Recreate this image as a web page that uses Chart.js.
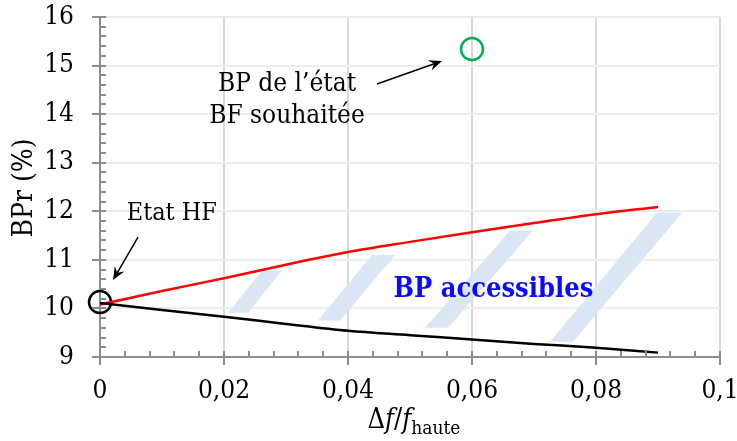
<!DOCTYPE html>
<html>
<head>
<meta charset="utf-8">
<script src="https://cdn.jsdelivr.net/npm/chart.js@4"></script>
<style>
  body { margin: 0; background: #fff; }
  canvas { display: block; }
</style>
</head>
<body>
<canvas id="chart" width="737" height="441"></canvas>
<script>
// Data
const xValues  = [0, 0.01, 0.02, 0.03, 0.04, 0.05, 0.06, 0.07, 0.08, 0.09];
const upperBP  = [10.08, 10.36, 10.62, 10.90, 11.16, 11.37, 11.57, 11.76, 11.94, 12.09];
const lowerBP  = [10.11, 9.97, 9.83, 9.68, 9.54, 9.45, 9.36, 9.27, 9.19, 9.09];
const targetBF = [{ x: 0.06, y: 15.34 }];
const stateHF  = [{ x: 0, y: 10.13 }];

const xTicks      = [0, 0.02, 0.04, 0.06, 0.08, 0.1];
const xTickLabels = ["0", "0,02", "0,04", "0,06", "0,08", "0,1"];
const yTicks      = [9, 10, 11, 12, 13, 14, 15, 16];

// hatched "accessible" band, corners in data units
const stripes = [
  [[0.02065, 9.91], [0.02387, 9.91], [0.02935, 10.78], [0.02613, 10.78]],
  [[0.03516, 9.75], [0.03871, 9.75], [0.04758, 11.10], [0.04387, 11.10]],
  [[0.05242, 9.60], [0.05613, 9.60], [0.06984, 11.60], [0.06613, 11.60]],
  [[0.07258, 9.315], [0.07629, 9.315], [0.09387, 11.97], [0.08984, 11.97]],
];

const FONT = "'DejaVu Serif Condensed', 'DejaVu Serif', serif";

const toPts = ys => xValues.map((x, i) => ({ x, y: ys[i] }));

function arrow(ctx, x1, y1, x2, y2) {
  const a = Math.atan2(y2 - y1, x2 - x1);
  const L = 13, W = 5.5;
  ctx.beginPath();
  ctx.moveTo(x1, y1);
  ctx.lineTo(x2 - Math.cos(a) * 6, y2 - Math.sin(a) * 6);
  ctx.stroke();
  ctx.beginPath();
  ctx.moveTo(x2, y2);
  ctx.lineTo(x2 - Math.cos(a) * L - Math.sin(a) * W, y2 - Math.sin(a) * L + Math.cos(a) * W);
  ctx.lineTo(x2 - Math.cos(a) * L * 0.65, y2 - Math.sin(a) * L * 0.65);
  ctx.lineTo(x2 - Math.cos(a) * L + Math.sin(a) * W, y2 - Math.sin(a) * L - Math.cos(a) * W);
  ctx.closePath();
  ctx.fill();
}

const decorations = {
  id: "decorations",
  beforeDatasetsDraw(chart) {
    const { ctx, scales: { x, y } } = chart;
    ctx.save();
    ctx.fillStyle = "#dae6f4";
    stripes.forEach(s => {
      ctx.beginPath();
      s.forEach(([vx, vy], i) => {
        const px = x.getPixelForValue(vx), py = y.getPixelForValue(vy);
        i ? ctx.lineTo(px, py) : ctx.moveTo(px, py);
      });
      ctx.closePath();
      ctx.fill();
    });
    ctx.restore();
  },
  afterDatasetsDraw(chart) {
    const { ctx, chartArea: ca, scales: { x, y } } = chart;
    ctx.save();

    // tick marks (major crossing, minor inside)
    ctx.strokeStyle = "#8c8c8c";
    ctx.lineWidth = 2;
    ctx.beginPath();
    for (let i = 0; i <= 35; i++) {
      const py = Math.round(y.getPixelForValue(9 + i * 0.2));
      const major = i % 5 === 0;
      ctx.moveTo(ca.left - (major ? 8 : 0), py);
      ctx.lineTo(ca.left + 6, py);
    }
    for (let i = 0; i <= 25; i++) {
      const px = Math.round(x.getPixelForValue(i * 0.004));
      const major = i % 5 === 0;
      ctx.moveTo(px, ca.bottom + (major ? 8 : 0));
      ctx.lineTo(px, ca.bottom - 6);
    }
    ctx.stroke();

    // annotations
    ctx.fillStyle = "#000";
    ctx.strokeStyle = "#000";
    ctx.lineWidth = 1.5;
    const P = (vx, vy) => [x.getPixelForValue(vx), y.getPixelForValue(vy)];
    arrow(ctx, ...P(0.00613, 11.47), ...P(0.0021, 10.585));
    arrow(ctx, ...P(0.04468, 14.62), ...P(0.05516, 15.094));

    ctx.font = "26px " + FONT;
    ctx.textAlign = "center";
    ctx.textBaseline = "alphabetic";
    ctx.fillText("BP de l’état", ...P(0.03016, 14.48));
    ctx.fillText("BF souhaitée", ...P(0.03016, 13.81));
    ctx.font = "25px " + FONT;
    ctx.textAlign = "left";
    ctx.fillText("Etat HF", ...P(0.00431, 11.82));

    ctx.textAlign = "center";
    ctx.fillStyle = "#0a0aff";
    ctx.font = "bold 27px " + FONT;
    ctx.fillText("BP accessibles", ...P(0.06345, 10.24));

    // axis titles
    ctx.fillStyle = "#000";
    ctx.save();
    ctx.translate(25, 188);
    ctx.rotate(-Math.PI / 2);
    ctx.textBaseline = "middle";
    ctx.font = "28px " + FONT;
    ctx.fillText("BPr (%)", 0, 0);
    ctx.restore();

    const parts = [
      ["Δ", "27px " + FONT, 0],
      ["f", "italic 27px " + FONT, 0],
      ["/", "27px " + FONT, 0],
      ["f", "italic 27px " + FONT, 0],
      ["haute", "19px " + FONT, 6],
    ];
    let total = 0;
    parts.forEach(p => { ctx.font = p[1]; p.push(ctx.measureText(p[0]).width); total += p[3]; });
    let cx = 414 - total / 2;
    ctx.textAlign = "left";
    parts.forEach(p => {
      ctx.font = p[1];
      ctx.fillText(p[0], cx, 428 + p[2]);
      cx += p[3];
    });
    ctx.restore();
  }
};

new Chart(document.getElementById("chart"), {
  type: "scatter",
  data: {
    datasets: [
      { data: toPts(lowerBP), showLine: true, borderColor: "#000", borderWidth: 2.5, pointRadius: 0, cubicInterpolationMode: "monotone" },
      { data: toPts(upperBP), showLine: true, borderColor: "#ff0000", borderWidth: 2.5, pointRadius: 0, cubicInterpolationMode: "monotone" },
      { data: stateHF, pointRadius: 11, borderColor: "#000", borderWidth: 2.5, backgroundColor: "transparent", clip: false },
      { data: targetBF, pointRadius: 11, borderColor: "#00b050", borderWidth: 2.5, backgroundColor: "transparent", clip: false },
    ]
  },
  options: {
    responsive: false,
    animation: false,
    devicePixelRatio: 1,
    layout: { padding: { left: 0, right: 17, top: 17, bottom: 0 } },
    plugins: { legend: { display: false }, tooltip: { enabled: false } },
    scales: {
      x: {
        type: "linear", min: 0, max: 0.1,
        afterBuildTicks: s => { s.ticks = xTicks.map(v => ({ value: v })); },
        afterFit: s => { s.height = 84; s.paddingLeft = 0; s.paddingRight = 0; },
        ticks: {
          color: "#000", font: { family: FONT, size: 26 }, padding: 19, maxRotation: 0,
          callback: (v, i) => xTickLabels[i]
        },
        grid: { color: "#d9d9d9", lineWidth: 2, drawTicks: false },
        border: { color: "#8c8c8c", width: 2 }
      },
      y: {
        min: 9, max: 16,
        afterBuildTicks: s => { s.ticks = yTicks.map(v => ({ value: v })); },
        afterFit: s => { s.width = 100; s.paddingTop = 0; s.paddingBottom = 0; },
        ticks: { color: "#000", font: { family: FONT, size: 26 }, padding: 26 },
        grid: { color: "#ededed", lineWidth: 2, drawTicks: false },
        border: { color: "#8c8c8c", width: 2 }
      }
    }
  },
  plugins: [decorations]
});
</script>
</body>
</html>
